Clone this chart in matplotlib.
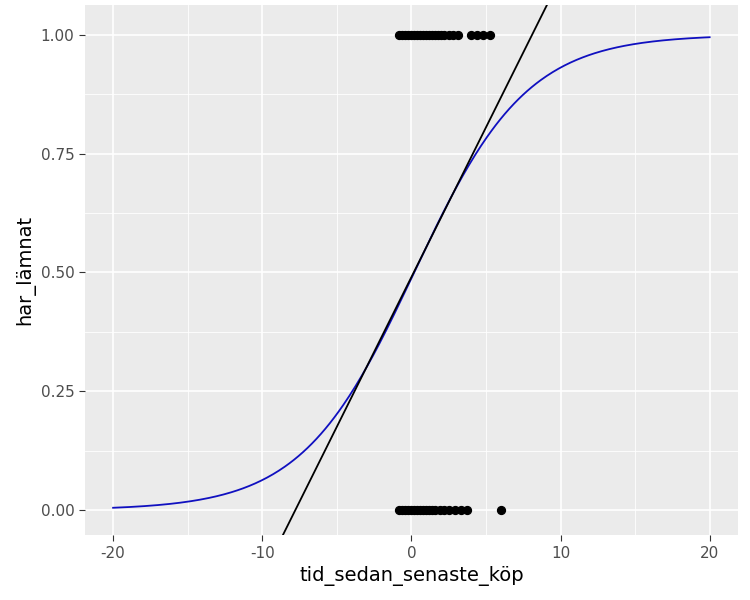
import numpy as np
import matplotlib
matplotlib.use("Agg")
import matplotlib.pyplot as plt
plt.rcParams["axes.unicode_minus"] = False

# observed points
x_left = [-0.8, -0.6, -0.4, -0.2, 0.0, 0.2, 0.4, 0.6, 0.8, 1.0, 1.2, 1.4, 1.6, 1.8, 2.0, 2.2, 2.5, 2.8, 3.1, 4.0, 4.4, 4.8, 5.3]
y_left = [1] * len(x_left)
x_stay = [-0.8, -0.6, -0.4, -0.2, 0.0, 0.2, 0.4, 0.6, 0.8, 1.0, 1.2, 1.4, 1.6, 1.9, 2.2, 2.5, 2.9, 3.3, 3.7, 6.0]
y_stay = [0] * len(x_stay)
# fitted logistic model coefficients and tangent line
b0, b1 = -0.05, 0.265
line_intercept, line_slope = 0.49, 0.063
xticks = [-20, -10, 0, 10, 20]
yticks = [0.0, 0.25, 0.5, 0.75, 1.0]

fig = plt.figure(figsize=(7.5, 6), dpi=100)
ax = fig.add_axes([0.113, 0.108, 0.871, 0.884])
ax.set_facecolor("#EBEBEB")
for s in ax.spines.values():
    s.set_visible(False)
ax.set_xlim(-21.9, 21.9)
ax.set_ylim(-0.053, 1.063)
ax.set_xticks(xticks)
ax.set_xticks([-15, -5, 5, 15], minor=True)
ax.set_yticks(yticks)
ax.set_yticks([0.125, 0.375, 0.625, 0.875], minor=True)
ax.set_yticklabels(["0.00", "0.25", "0.50", "0.75", "1.00"])
ax.grid(which="major", color="white", lw=1.2)
ax.grid(which="minor", color="white", lw=0.6)
ax.set_axisbelow(True)
ax.tick_params(which="major", length=4, color="#333333", labelcolor="#4D4D4D", labelsize=11)
ax.tick_params(which="minor", length=0)

xs = np.linspace(-20, 20, 400)
ax.plot(xs, 1 / (1 + np.exp(-(b0 + b1 * xs))), color="#1010C0", lw=1.3, zorder=3)
xl = np.array([-25, 25])
ax.plot(xl, line_intercept + line_slope * xl, color="black", lw=1.3, zorder=3)
ax.scatter(x_left, y_left, color="black", s=32, zorder=4)
ax.scatter(x_stay, y_stay, color="black", s=32, zorder=4)

ax.set_xlabel("tid_sedan_senaste_köp", fontsize=14)
ax.set_ylabel("har_lämnat", fontsize=14)
fig.savefig("out.png")
